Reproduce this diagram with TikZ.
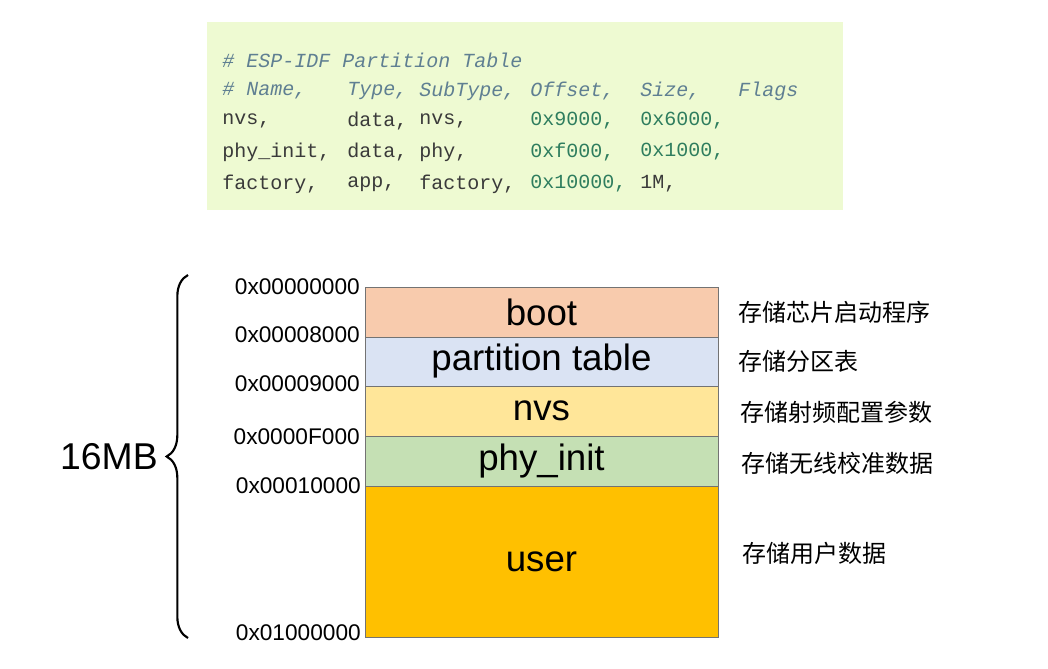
\documentclass[tikz,border=0pt]{standalone}
\usepackage{fontspec}
\setmainfont{Carlito}
\newfontfamily\addrfont{Liberation Sans}
\newfontfamily\monofont{Liberation Mono}
\newfontfamily\cjk{Noto Sans CJK SC}
\usetikzlibrary{decorations.pathreplacing}
\definecolor{codebg}{HTML}{EEFAD2}
\definecolor{cmt}{HTML}{5F7F92}
\definecolor{txt}{HTML}{3A3A3A}
\definecolor{num}{HTML}{2E7D5E}
\definecolor{cboot}{HTML}{F8CBAD}
\definecolor{cpart}{HTML}{DAE3F3}
\definecolor{cnvs}{HTML}{FFE699}
\definecolor{cphy}{HTML}{C5E0B4}
\definecolor{cuser}{HTML}{FFC000}
\begin{document}
\begin{tikzpicture}[x=0.75pt,y=-0.75pt,
  code/.style={anchor=west,inner sep=0,font=\monofont\fontsize{15}{17}\selectfont},
  c/.style={code,text=cmt,font=\monofont\itshape\fontsize{15}{17}\selectfont},
  t/.style={code,text=txt},
  n/.style={code,text=num},
  part/.style={draw=black!55,line width=0.6pt,font=\addrfont\fontsize{27.5}{31}\selectfont},
  addr/.style={anchor=east,inner sep=0,font=\addrfont\fontsize{17}{20}\selectfont},
  desc/.style={anchor=west,inner sep=0,font=\cjk\fontsize{18}{21}\selectfont}]
\useasboundingbox (0,0) rectangle (1048,668);
\fill[codebg] (207,22) rectangle (843,210);
\node[c] (h1) at (222,60) {\# ESP-IDF Partition Table};
\node[c] (h2a) at (222,91) {\# Name,};
\node[c] (h2b) at (347,91) {Type,};
\node[c] (h2c) at (419,91) {SubType,};
\node[c] (h2d) at (530,91) {Offset,};
\node[c] (h2e) at (640,91) {Size,};
\node[c] (h2f) at (738,91) {Flags};
\node[t] (r1a) at (222,121) {nvs,};
\node[t] (r1b) at (347,121) {data,};
\node[t] (r1c) at (419,121) {nvs,};
\node[n] (r1d) at (530,121) {0x9000,};
\node[n] (r1e) at (640,121) {0x6000,};
\node[t] (r2a) at (222,152) {phy\_init,};
\node[t] (r2b) at (347,152) {data,};
\node[t] (r2c) at (419,152) {phy,};
\node[n] (r2d) at (530,152) {0xf000,};
\node[n] (r2e) at (640,152) {0x1000,};
\node[t] (r3a) at (222,184) {factory,};
\node[t] (r3b) at (347,184) {app,};
\node[t] (r3c) at (419,184) {factory,};
\node[n] (r3d) at (530,184) {0x10000,};
\node[t] (r3e) at (640,184) {1M,};

\draw[part,fill=cboot] (365,287) rectangle node (pb) {boot} (718,337);
\draw[part,fill=cpart] (365,337) rectangle node (pp) {partition table} (718,386);
\draw[part,fill=cnvs] (365,386) rectangle node (pn) {nvs} (718,436);
\draw[part,fill=cphy] (365,436) rectangle node (pi) {phy\_init} (718,486);
\draw[part,fill=cuser] (365,486) rectangle node (pu) {user} (718,637);

\node[addr] (a0) at (360,287) {0x00000000};
\node[addr] (a1) at (360,335) {0x00008000};
\node[addr] (a2) at (360,384) {0x00009000};
\node[addr] (a3) at (360,437) {0x0000F000};
\node[addr] (a4) at (361,486) {0x00010000};
\node[addr] (a5) at (361,633) {0x01000000};

\node[desc] (d0) at (738,312) {存储芯片启动程序};
\node[desc] (d1) at (738,361) {存储分区表};
\node[desc] (d2) at (740,412) {存储射频配置参数};
\node[desc] (d3) at (741,463) {存储无线校准数据};
\node[desc] (d4) at (742,553) {存储用户数据};

\coordinate (bt) at (188,638);
\coordinate (bb) at (188,275);
\draw[line width=1.6pt,decorate,decoration={brace,amplitude=16pt}] (bt) -- (bb);
\node[anchor=east,inner sep=0,font=\addrfont\fontsize{28}{32}\selectfont] (mb) at (158,457) {16MB};
\end{tikzpicture}
\end{document}
